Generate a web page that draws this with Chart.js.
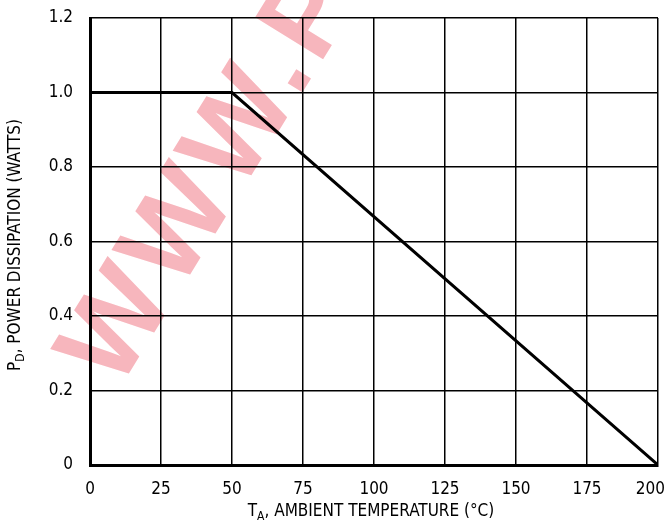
<!DOCTYPE html>
<html>
<head>
<meta charset="utf-8">
<script src="https://cdn.jsdelivr.net/npm/chart.js@4"></script>
<style>
  html, body { margin: 0; padding: 0; background: #fff; }
  #wrap { width: 664px; height: 522px; }
</style>
</head>
<body>
<div id="wrap"><canvas id="c" width="664" height="522"></canvas></div>
<script>
// derating curve: ambient temperature (C) vs power dissipation (W)
const tempC = [0, 50, 200];
const powerW = [1.0, 1.0, 0];
const xTicks = [0, 25, 50, 75, 100, 125, 150, 175, 200];
const yTicks = [0, 0.2, 0.4, 0.6, 0.8, 1.0, 1.2];

const FONT = '"Liberation Sans Narrow", "DejaVu Sans Condensed", "Liberation Sans", sans-serif';

// white page + pink watermark under the grid
const backdrop = {
  id: 'backdrop',
  beforeDraw(chart) {
    const ctx = chart.ctx;
    ctx.save();
    ctx.fillStyle = '#fff';
    ctx.fillRect(0, 0, chart.width, chart.height);
    ctx.translate(118, 391);
    ctx.rotate(-58.3 * Math.PI / 180);
    ctx.font = 'bold 116px "Liberation Sans", sans-serif';
    ctx.fillStyle = '#f7b6bd';
    ctx.textAlign = 'left';
    ctx.textBaseline = 'alphabetic';
    if ('letterSpacing' in ctx) ctx.letterSpacing = '7px';
    ctx.fillText('WWW.P', 0, 0);
    ctx.restore();
  }
};

// axis titles with subscripts
const titles = {
  id: 'titles',
  afterDraw(chart) {
    const ctx = chart.ctx;
    const area = chart.chartArea;
    function sub(main, s, rest, x, y) {
      ctx.font = '17px ' + FONT;
      const w1 = ctx.measureText(main).width;
      ctx.font = '12px ' + FONT;
      const w2 = ctx.measureText(s).width;
      ctx.font = '17px ' + FONT;
      const w3 = ctx.measureText(rest).width;
      let sx = x - (w1 + w2 + w3) / 2;
      ctx.textAlign = 'left';
      ctx.textBaseline = 'alphabetic';
      ctx.fillText(main, sx, y);
      ctx.font = '12px ' + FONT;
      ctx.fillText(s, sx + w1, y + 4);
      ctx.font = '17px ' + FONT;
      ctx.fillText(rest, sx + w1 + w2, y);
    }
    ctx.save();
    ctx.fillStyle = '#000';
    sub('T', 'A', ', AMBIENT TEMPERATURE (\u00B0C)', (area.left + area.right) / 2 - 3, 516);
    ctx.translate(20, 245);
    ctx.rotate(-Math.PI / 2);
    sub('P', 'D', ', POWER DISSIPATION (WATTS)', 0, 0);
    ctx.restore();
  }
};

new Chart(document.getElementById('c'), {
  type: 'scatter',
  data: {
    datasets: [{
      data: tempC.map((t, i) => ({ x: t, y: powerW[i] })),
      showLine: true,
      borderColor: '#000',
      borderWidth: 3,
      pointRadius: 0,
      fill: false
    }]
  },
  options: {
    responsive: false,
    animation: false,
    devicePixelRatio: 1,
    layout: { autoPadding: false, padding: { top: 18, right: 6, left: 0, bottom: 0 } },
    plugins: { legend: { display: false }, tooltip: { enabled: false } },
    scales: {
      x: {
        type: 'linear',
        min: 0,
        max: 200,
        afterBuildTicks(scale) { scale.ticks = xTicks.map(v => ({ value: v })); },
        afterFit(scale) {
          scale.height = 57;
          scale.paddingLeft = 0;
          scale.paddingRight = 0;
        },
        grid: { color: '#000', lineWidth: 1.5, drawTicks: false },
        border: { color: '#000', width: 3 },
        ticks: {
          color: '#000',
          padding: 14,
          font: { family: FONT, size: 17 },
          maxRotation: 0,
          // last label sits a little left so it stays on the page
          callback: v => (v === 200 ? '200\u2002\u2002' : String(v))
        }
      },
      y: {
        type: 'linear',
        min: 0,
        max: 1.2,
        afterBuildTicks(scale) { scale.ticks = yTicks.map(v => ({ value: v })); },
        afterFit(scale) {
          scale.width = 90;
          scale.paddingTop = 0;
          scale.paddingBottom = 0;
        },
        grid: { color: '#000', lineWidth: 1.5, drawTicks: false },
        border: { color: '#000', width: 3 },
        ticks: {
          color: '#000',
          padding: 17,
          font: { family: FONT, size: 17 },
          callback: v => (v === 0 ? '0' : v.toFixed(1))
        }
      }
    }
  },
  plugins: [backdrop, titles]
});
</script>
</body>
</html>
